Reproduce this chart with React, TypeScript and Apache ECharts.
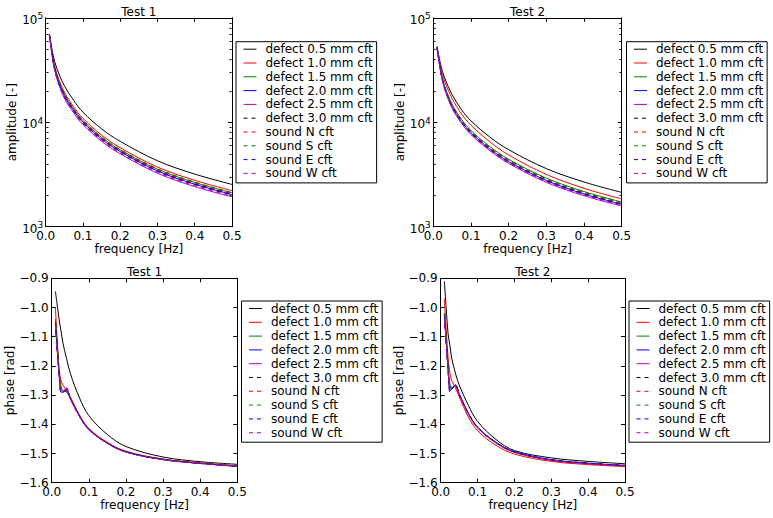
import React, { useEffect, useRef } from "react";
import * as echarts from "echarts";

// ---- data ---------------------------------------------------------------

const seriesNames = [
  "defect 0.5 mm cft",
  "defect 1.0 mm cft",
  "defect 1.5 mm cft",
  "defect 2.0 mm cft",
  "defect 2.5 mm cft",
  "defect 3.0 mm cft",
  "sound N cft",
  "sound S cft",
  "sound E cft",
  "sound W cft",
];

const seriesColors = [
  "#000000", "#ff0000", "#008000", "#0000ff", "#bf00bf",
  "#000000", "#ff0000", "#008000", "#0000ff", "#bf00bf",
];

const seriesDashed = [false, false, false, false, false, true, true, true, true, true];

// frequency samples [Hz]
const ampFreq = [0.01, 0.02, 0.03, 0.05, 0.075, 0.1, 0.15, 0.2, 0.3, 0.4, 0.5];
const phaseFreq = [0.01, 0.02, 0.025, 0.03, 0.04, 0.05, 0.075, 0.1, 0.15, 0.2, 0.3, 0.4, 0.5];

// amplitude [-], Test 1 (one row per series, same order as seriesNames)
const amplitudeTest1 = [
  [70000, 43800, 32700, 22400, 16200, 12500, 8650, 6560, 4280, 3190, 2540],
  [70000, 40300, 29100, 19490, 14090, 10880, 7530, 5710, 3720, 2780, 2210],
  [69000, 39400, 27960, 18590, 13450, 10380, 7180, 5440, 3550, 2650, 2110],
  [68500, 38540, 27140, 17920, 12960, 10000, 6920, 5250, 3420, 2550, 2030],
  [68000, 37450, 26160, 17020, 12310, 9500, 6570, 4990, 3250, 2420, 1930],
  [68500, 38760, 27470, 18140, 13120, 10130, 7010, 5310, 3470, 2580, 2060],
  [69000, 38980, 27630, 18370, 13280, 10250, 7090, 5380, 3510, 2620, 2080],
  [69000, 39420, 28120, 18820, 13610, 10500, 7270, 5510, 3600, 2680, 2130],
  [68500, 38330, 26810, 17700, 12800, 9880, 6830, 5180, 3380, 2520, 2010],
  [68000, 37670, 26320, 17250, 12470, 9630, 6660, 5050, 3300, 2460, 1960],
];

// amplitude [-], Test 2
const amplitudeTest2 = [
  [53500, 35000, 26700, 18370, 13180, 10300, 7220, 5460, 3600, 2680, 2130],
  [52400, 33250, 24830, 16900, 11990, 9370, 6500, 4860, 3170, 2330, 1845],
  [51900, 31010, 22380, 14880, 10680, 8340, 5850, 4420, 2920, 2170, 1725],
  [51900, 30170, 21490, 14140, 10150, 7930, 5560, 4200, 2770, 2060, 1640],
  [51400, 29540, 20800, 13590, 9750, 7620, 5340, 4040, 2660, 1980, 1576],
  [51900, 30380, 21710, 14330, 10280, 8030, 5630, 4260, 2810, 2090, 1661],
  [51900, 30590, 21890, 14510, 10410, 8140, 5700, 4310, 2840, 2120, 1683],
  [51900, 30800, 22160, 14700, 10540, 8240, 5780, 4370, 2880, 2140, 1704],
  [51400, 29960, 21250, 13960, 10020, 7830, 5490, 4150, 2740, 2040, 1619],
  [51400, 29750, 21010, 13780, 9890, 7730, 5420, 4100, 2700, 2010, 1598],
];

// phase [rad], Test 1
const phaseTest1 = [
  [-0.945, -1.04, -1.08, -1.12, -1.175, -1.225, -1.31, -1.37, -1.435, -1.476, -1.512, -1.528, -1.537],
  [-1.0, -1.21, -1.25, -1.265, -1.285, -1.305, -1.368, -1.414, -1.462, -1.492, -1.519, -1.532, -1.542],
  [-1.04, -1.22, -1.27, -1.285, -1.29, -1.31, -1.372, -1.417, -1.464, -1.494, -1.52, -1.533, -1.543],
  [-1.05, -1.23, -1.29, -1.29, -1.28, -1.312, -1.373, -1.418, -1.465, -1.495, -1.521, -1.534, -1.544],
  [-1.06, -1.23, -1.285, -1.29, -1.275, -1.31, -1.372, -1.418, -1.465, -1.495, -1.521, -1.534, -1.544],
  [-1.05, -1.225, -1.28, -1.29, -1.285, -1.31, -1.372, -1.417, -1.464, -1.494, -1.52, -1.533, -1.543],
  [-1.04, -1.22, -1.275, -1.285, -1.287, -1.31, -1.371, -1.416, -1.463, -1.494, -1.52, -1.533, -1.543],
  [-1.045, -1.225, -1.28, -1.288, -1.285, -1.31, -1.372, -1.417, -1.464, -1.494, -1.52, -1.533, -1.543],
  [-1.055, -1.23, -1.29, -1.29, -1.28, -1.312, -1.373, -1.418, -1.465, -1.495, -1.521, -1.534, -1.544],
  [-1.06, -1.23, -1.288, -1.29, -1.277, -1.311, -1.373, -1.418, -1.465, -1.495, -1.521, -1.534, -1.544],
];

// phase [rad], Test 2
const phaseTest2 = [
  [-0.91, -1.09, -1.13, -1.175, -1.225, -1.265, -1.335, -1.39, -1.452, -1.49, -1.515, -1.527, -1.535],
  [-0.97, -1.17, -1.225, -1.25, -1.275, -1.305, -1.375, -1.422, -1.472, -1.502, -1.527, -1.538, -1.545],
  [-1.02, -1.2, -1.26, -1.275, -1.27, -1.295, -1.362, -1.41, -1.462, -1.494, -1.522, -1.534, -1.541],
  [-1.025, -1.21, -1.285, -1.28, -1.265, -1.295, -1.362, -1.41, -1.462, -1.494, -1.521, -1.533, -1.541],
  [-1.03, -1.21, -1.28, -1.275, -1.265, -1.297, -1.365, -1.412, -1.464, -1.496, -1.523, -1.535, -1.542],
  [-1.025, -1.205, -1.275, -1.275, -1.268, -1.296, -1.363, -1.411, -1.463, -1.495, -1.522, -1.534, -1.541],
  [-1.02, -1.2, -1.27, -1.275, -1.27, -1.296, -1.363, -1.411, -1.463, -1.495, -1.522, -1.534, -1.541],
  [-1.02, -1.2, -1.27, -1.275, -1.27, -1.295, -1.362, -1.41, -1.462, -1.494, -1.521, -1.533, -1.541],
  [-1.03, -1.215, -1.29, -1.28, -1.265, -1.295, -1.362, -1.41, -1.462, -1.494, -1.521, -1.533, -1.541],
  [-1.03, -1.21, -1.282, -1.277, -1.266, -1.297, -1.364, -1.412, -1.464, -1.496, -1.523, -1.535, -1.542],
];

const freqTicks = { min: 0, max: 0.5, interval: 0.1 };
const phaseTicks = { min: -1.6, max: -0.9, interval: 0.1 };
const ampRange = { min: 1000, max: 100000 };

// ---- layout ---------------------------------------------------------------

const FONT = "DejaVu Sans";

type Panel = {
  title: string;
  kind: "amp" | "phase";
  freq: number[];
  rows: number[][];
  yName: string;
  grid: { left: number; top: number; width: number; height: number };
  titleTop: number;
  legend: { left: number; top: number };
  yNameGap: number;
};

const panels: Panel[] = [
  {
    title: "Test 1", kind: "amp", freq: ampFreq, rows: amplitudeTest1, yName: "amplitude [-]",
    grid: { left: 45.7, top: 17.8, width: 186.3, height: 208.9 },
    titleTop: 5.5, legend: { left: 236, top: 41.7 }, yNameGap: 26.4,
  },
  {
    title: "Test 2", kind: "amp", freq: ampFreq, rows: amplitudeTest2, yName: "amplitude [-]",
    grid: { left: 433.3, top: 17.8, width: 188.4, height: 208.9 },
    titleTop: 5.5, legend: { left: 626.5, top: 41.7 }, yNameGap: 26.4,
  },
  {
    title: "Test 1", kind: "phase", freq: phaseFreq, rows: phaseTest1, yName: "phase [rad]",
    grid: { left: 51.7, top: 278.3, width: 185.6, height: 204.4 },
    titleTop: 266, legend: { left: 241.5, top: 301 }, yNameGap: 32.4,
  },
  {
    title: "Test 2", kind: "phase", freq: phaseFreq, rows: phaseTest2, yName: "phase [rad]",
    grid: { left: 440.7, top: 278.3, width: 184.3, height: 204.4 },
    titleTop: 266, legend: { left: 629, top: 301 }, yNameGap: 32.4,
  },
];

const black = "#000000";
const tickStyle = { show: true, inside: true, length: 4, lineStyle: { color: black, width: 1 } };
const lineStyleAxis = { show: true, onZero: false, lineStyle: { color: black, width: 1 } };
const labelText = { fontFamily: FONT, fontSize: 12, color: black };

const fmtFreq = (v: number) => v.toFixed(1);
const fmtPhase = (v: number) => (v < 0 ? "\u2212" : "") + Math.abs(v).toFixed(1);
const fmtPow = (v: number) => `{b|10}{s|${Math.round(Math.log10(v))}}`;

function buildOption() {
  const grid: any[] = [];
  const xAxis: any[] = [];
  const yAxis: any[] = [];
  const title: any[] = [];
  const legend: any[] = [];
  const series: any[] = [];

  panels.forEach((p, i) => {
    grid.push({ ...p.grid, containLabel: false, show: false });

    title.push({
      text: p.title,
      left: p.grid.left + p.grid.width / 2,
      top: p.titleTop,
      textAlign: "center",
      padding: 0,
      textStyle: { ...labelText, fontWeight: "normal" },
    });

    xAxis.push({
      gridIndex: i, type: "value", position: "bottom", ...freqTicks,
      name: "frequency [Hz]", nameLocation: "middle", nameGap: 11,
      nameTextStyle: labelText,
      axisLine: lineStyleAxis, axisTick: tickStyle, splitLine: { show: false },
      axisLabel: { ...labelText, margin: 3, formatter: fmtFreq },
    });
    xAxis.push({
      gridIndex: i, type: "value", position: "top", ...freqTicks,
      axisLine: lineStyleAxis, axisTick: tickStyle, splitLine: { show: false },
      axisLabel: { show: false },
    });

    if (p.kind === "amp") {
      const powLabel = {
        margin: 2.5,
        padding: [4, 0, 0, 0],
        formatter: fmtPow,
        rich: {
          b: { fontFamily: FONT, fontSize: 12, color: black, lineHeight: 16 },
          s: { fontFamily: FONT, fontSize: 9, color: black, lineHeight: 9, verticalAlign: "top" },
        },
      };
      yAxis.push({
        gridIndex: i, type: "log", logBase: 10, position: "left", ...ampRange,
        name: p.yName, nameLocation: "middle", nameGap: p.yNameGap, nameTextStyle: labelText,
        axisLine: lineStyleAxis, axisTick: tickStyle, splitLine: { show: false },
        axisLabel: powLabel,
      });
      yAxis.push({
        gridIndex: i, type: "log", logBase: 10, position: "right", ...ampRange,
        axisLine: lineStyleAxis, axisTick: tickStyle, splitLine: { show: false },
        axisLabel: { show: false },
      });
    } else {
      yAxis.push({
        gridIndex: i, type: "value", position: "left", ...phaseTicks,
        name: p.yName, nameLocation: "middle", nameGap: p.yNameGap, nameTextStyle: labelText,
        axisLine: lineStyleAxis, axisTick: tickStyle, splitLine: { show: false },
        axisLabel: { ...labelText, margin: 3, formatter: fmtPhase },
      });
      yAxis.push({
        gridIndex: i, type: "value", position: "right", ...phaseTicks,
        axisLine: lineStyleAxis, axisTick: tickStyle, splitLine: { show: false },
        axisLabel: { show: false },
      });
    }

    p.rows.forEach((row, k) => {
      const color = seriesColors[k];
      series.push({
        type: "line",
        name: seriesNames[k],
        xAxisIndex: 2 * i,
        yAxisIndex: 2 * i,
        data: p.freq.map((f, j) => [f, row[j]]),
        symbol: "none",
        showSymbol: false,
        smooth: 0.35,
        silent: true,
        itemStyle: { color },
        lineStyle: { color, width: 1, type: seriesDashed[k] ? [4, 4] : "solid" },
        emphasis: { disabled: true },
      });
    });

    legend.push({
      show: true,
      orient: "vertical",
      left: p.legend.left,
      top: p.legend.top,
      data: seriesNames,
      selectedMode: false,
      itemWidth: 13,
      itemHeight: 14,
      itemGap: 1.8,
      padding: [1.5, 4, 3.5, 7],
      borderColor: black,
      borderWidth: 1,
      borderRadius: 0,
      backgroundColor: "#ffffff",
      textStyle: { ...labelText, padding: [0, 0, 0, 4] },
      itemStyle: { color: "rgba(0,0,0,0)", borderWidth: 0, opacity: 0 },
      lineStyle: { width: 1 },
    });
  });

  return {
    animation: false,
    backgroundColor: "#ffffff",
    textStyle: { fontFamily: FONT },
    title,
    grid,
    xAxis,
    yAxis,
    legend,
    series,
  };
}

// minor ticks (2..9 per decade) on both sides of every log axis
function logMinorTicks(chart: echarts.ECharts) {
  const elements: any[] = [];
  panels.forEach((p, i) => {
    if (p.kind !== "amp") return;
    const xl = chart.convertToPixel({ xAxisIndex: 2 * i }, freqTicks.min) as number;
    const xr = chart.convertToPixel({ xAxisIndex: 2 * i }, freqTicks.max) as number;
    const left = Math.round(xl) + 0.5;
    const right = Math.round(xr) - 0.5;
    for (let dec = ampRange.min; dec < ampRange.max; dec *= 10) {
      for (let m = 2; m <= 9; m++) {
        const y = chart.convertToPixel({ yAxisIndex: 2 * i }, dec * m) as number;
        const yy = Math.round(y) + 0.5;
        elements.push({
          type: "line", silent: true,
          shape: { x1: left, y1: yy, x2: left + 2, y2: yy },
          style: { stroke: black, lineWidth: 1 },
        });
        elements.push({
          type: "line", silent: true,
          shape: { x1: right - 2, y1: yy, x2: right, y2: yy },
          style: { stroke: black, lineWidth: 1 },
        });
      }
    }
  });
  chart.setOption({ graphic: elements });
}

export default function App() {
  const ref = useRef<HTMLDivElement>(null);

  useEffect(() => {
    if (!ref.current) return;
    const chart = echarts.init(ref.current, undefined, { renderer: "svg" });
    chart.setOption(buildOption());
    logMinorTicks(chart);
    return () => chart.dispose();
  }, []);

  return (
    <div
      ref={ref}
      style={{ position: "absolute", left: 0, top: 0, width: 773, height: 518, background: "#ffffff" }}
    />
  );
}
